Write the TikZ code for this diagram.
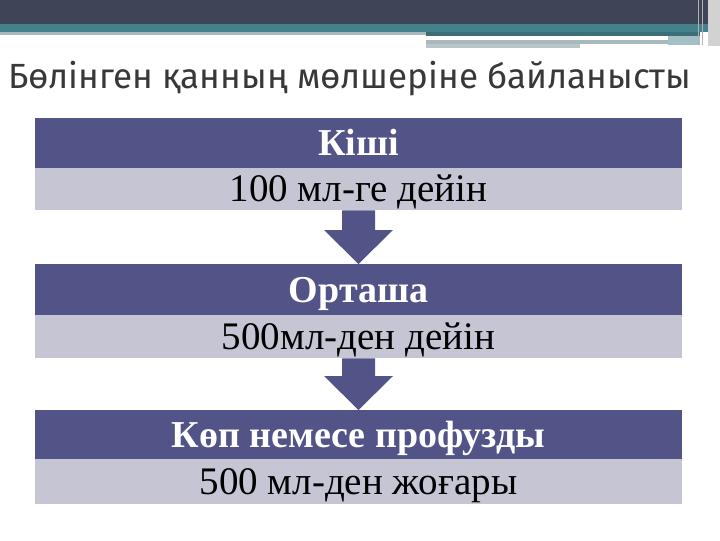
\documentclass[tikz,border=0pt]{standalone}
\usepackage{fontspec}
\setmainfont{Liberation Serif}
\newfontfamily\titlefont{Fira Sans}
\usepackage{tikz}
\newcommand{\boxwidth}{647pt}
\definecolor{bandblue}{HTML}{525488}
\definecolor{bandgrey}{HTML}{C6C5D4}
\definecolor{topdark}{HTML}{3F4456}
\definecolor{topteal}{HTML}{45818B}
\definecolor{stripgrey}{HTML}{A8B8BC}
\definecolor{titlegrey}{HTML}{383838}

\begin{document}
\begin{tikzpicture}[x=1pt,y=-1pt]
\fill[white] (0,0) rectangle (720,540);
% top bars
\fill[topdark] (0,0) rectangle (720,24);
\fill[topteal] (0,24) rectangle (720,32);
\fill[stripgrey] (0,32) rectangle (426,35);
\fill[topteal!85!black] (426,32) rectangle (700,36);
\fill[stripgrey] (426,40) rectangle (668,44);
\fill[stripgrey!80] (426,44) rectangle (580,48);
\fill[topteal!50] (668,36) rectangle (700,45);
\draw[gray!60] (698,0) -- (698,45);
\draw[gray!60] (702,0) -- (702,45);
\fill[gray!35] (708,0) rectangle (720,46);
\tikzstyle{every node}=[inner sep=0pt,
                        minimum width=\boxwidth,
                        text height=25pt,
                        text depth=0pt
                        ]
\tikzstyle{headband}=[fill=bandblue, text=white, font=\bfseries\fontsize{38}{38}\selectfont]
\tikzstyle{valueband}=[fill=bandgrey, text=black, font=\fontsize{39}{39}\selectfont]
\tikzstyle{flowarrow}=[fill=bandblue]
\node[anchor=base west, minimum width=0pt, text height=, text depth=, text=titlegrey,
      font=\titlefont\fontsize{35}{35}\selectfont] (title) at (8,88) {Бөлінген қанның мөлшеріне байланысты};
\node[headband, minimum height=50pt] (kishi) at (358.5,143) {Кіші};
\node[valueband, minimum height=42pt] (kishival) at (358.5,189) {100 мл-ге дейін};
\node[headband, minimum height=51pt] (orta) at (358.5,289.5) {Орташа};
\node[valueband, minimum height=43pt] (ortaval) at (358.5,336.5) {500мл-ден дейін};
\node[headband, minimum height=49pt] (kop) at (358.5,434.5) {Көп немесе профузды};
\node[valueband, minimum height=45pt] (kopval) at (358.5,481.5) {500 мл-ден жоғары};
\foreach \src/\dst in {kishival/orta, ortaval/kop}{
  \fill[flowarrow] ([xshift=-16.5pt]\src.south) -- ([xshift=-16.5pt,yshift=34pt]\dst.north)
    -- ([xshift=-34.5pt,yshift=34pt]\dst.north) -- (\dst.north)
    -- ([xshift=34.5pt,yshift=34pt]\dst.north) -- ([xshift=16.5pt,yshift=34pt]\dst.north)
    -- ([xshift=16.5pt]\src.south) -- cycle;
}
\end{tikzpicture}
\end{document}
